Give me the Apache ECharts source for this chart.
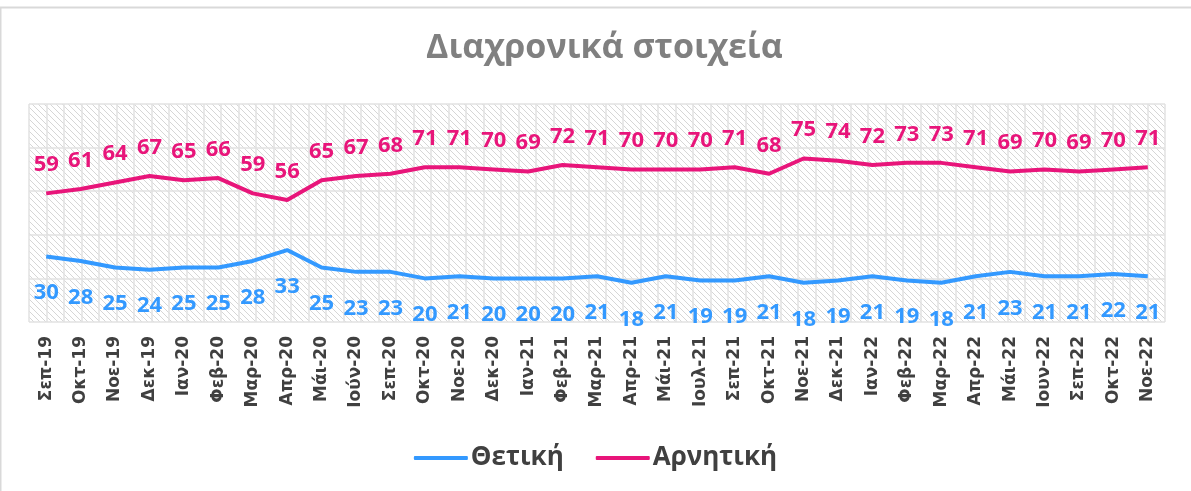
<!DOCTYPE html>
<html>
<head>
<meta charset="utf-8">
<script src="https://cdn.jsdelivr.net/npm/echarts@6/dist/echarts.min.js"></script>
<style>
  html, body { margin: 0; padding: 0; background: #fff; }
  #chart { width: 1191px; height: 491px; }
</style>
</head>
<body>
<div id="chart"></div>
<script>
// μήνες
const months = ['Σεπ-19', 'Οκτ-19', 'Νοε-19', 'Δεκ-19', 'Ιαν-20', 'Φεβ-20', 'Μαρ-20', 'Απρ-20', 'Μάι-20', 'Ιούν-20',
  'Σεπ-20', 'Οκτ-20', 'Νοε-20', 'Δεκ-20', 'Ιαν-21', 'Φεβ-21', 'Μαρ-21', 'Απρ-21', 'Μάι-21', 'Ιουλ-21',
  'Σεπ-21', 'Οκτ-21', 'Νοε-21', 'Δεκ-21', 'Ιαν-22', 'Φεβ-22', 'Μαρ-22', 'Απρ-22', 'Μάι-22', 'Ιουν-22',
  'Σεπ-22', 'Οκτ-22', 'Νοε-22']

// Θετική
const positive = [30, 28, 25, 24, 25, 25, 28, 33, 25, 23, 23, 20, 21, 20, 20, 20, 21, 18, 21, 19,
  19, 21, 18, 19, 21, 19, 18, 21, 23, 21, 21, 22, 21]

// Αρνητική
const negative = [59, 61, 64, 67, 65, 66, 59, 56, 65, 67, 68, 71, 71, 70, 69, 72, 71, 70, 70, 70,
  71, 68, 75, 74, 72, 73, 73, 71, 69, 70, 69, 70, 71]

const BLUE = '#3399ff'
const PINK = '#e8157a'

// διαγώνιο μοτίβο για το φόντο
const makeHatch = () => {
  const c = document.createElement('canvas')
  c.width = 6
  c.height = 6
  const ctx = c.getContext('2d')
  ctx.strokeStyle = '#d6d6d6'
  ctx.lineWidth = 1
  ctx.beginPath()
  ctx.moveTo(-1, -1)
  ctx.lineTo(7, 7)
  ctx.moveTo(-1, 5)
  ctx.lineTo(1, 7)
  ctx.moveTo(5, -1)
  ctx.lineTo(7, 1)
  ctx.stroke()
  return c
}

const labelStyle = (color, position, distance) => ({
  show: true,
  position: position,
  distance: distance,
  fontFamily: 'Open Sans',
  fontWeight: 'bold',
  fontSize: 22,
  color: color
})

const chart = echarts.init(document.getElementById('chart'))

const option = {
  animation: false,
  graphic: [{
    type: 'rect',
    shape: { x: 0.5, y: 7.5, width: 1250, height: 600 },
    style: { fill: 'none', stroke: '#d9d9d9', lineWidth: 2 },
    z: -1
  }],
  title: {
    text: 'Διαχρονικά στοιχεία',
    left: 421,
    top: 26,
    textStyle: {
      fontFamily: 'Open Sans',
      fontWeight: 'bold',
      fontSize: 34,
      color: '#808080'
    }
  },
  legend: {
    bottom: 15,
    left: 'center',
    icon: 'roundRect',
    itemWidth: 54,
    itemHeight: 4,
    itemGap: 32,
    textStyle: {
      fontFamily: 'Open Sans',
      fontWeight: 'bold',
      fontSize: 26,
      color: '#404040',
      padding: [0, 0, 0, -2]
    },
    data: [
      { name: 'Θετική', itemStyle: { color: BLUE } },
      { name: 'Αρνητική', itemStyle: { color: PINK } }
    ]
  },
  grid: {
    left: 29,
    right: 26,
    top: 104,
    bottom: 169,
    show: true,
    borderWidth: 0,
    backgroundColor: { image: makeHatch(), repeat: 'repeat' }
  },
  xAxis: [{
    type: 'category',
    data: months,
    boundaryGap: true,
    axisLine: { show: false },
    axisTick: { show: false },
    axisLabel: {
      rotate: 90,
      margin: 14,
      interval: 0,
      fontFamily: 'DejaVu Sans',
      fontWeight: 'bold',
      fontSize: 17,
      color: '#404040'
    }
  }, {
    // κάθετες γραμμές του πλέγματος
    type: 'value',
    min: 0,
    max: 65,
    interval: 1,
    show: true,
    axisLine: { show: false },
    axisTick: { show: false },
    axisLabel: { show: false },
    splitLine: { show: true, lineStyle: { color: '#e2e2e2', width: 1.5 } }
  }],
  yAxis: {
    type: 'value',
    min: 0,
    max: 100,
    interval: 20,
    axisLine: { show: false },
    axisTick: { show: false },
    axisLabel: { show: false },
    splitLine: { lineStyle: { color: '#e2e2e2', width: 1.5 } }
  },
  series: [{
    name: 'Θετική',
    type: 'line',
    data: positive,
    xAxisIndex: 0,
    symbol: 'circle',
    symbolSize: 1,
    showSymbol: true,
    showAllSymbol: true,
    itemStyle: { color: 'rgba(0,0,0,0)' },
    lineStyle: { width: 4, color: BLUE },
    label: labelStyle(BLUE, 'bottom', 25),
    z: 3
  }, {
    name: 'Αρνητική',
    type: 'line',
    data: negative,
    xAxisIndex: 0,
    symbol: 'circle',
    symbolSize: 1,
    showSymbol: true,
    showAllSymbol: true,
    itemStyle: { color: 'rgba(0,0,0,0)' },
    lineStyle: { width: 4, color: PINK },
    label: labelStyle(PINK, 'top', 17),
    z: 3
  }]
}

chart.setOption(option)
</script>
</body>
</html>
